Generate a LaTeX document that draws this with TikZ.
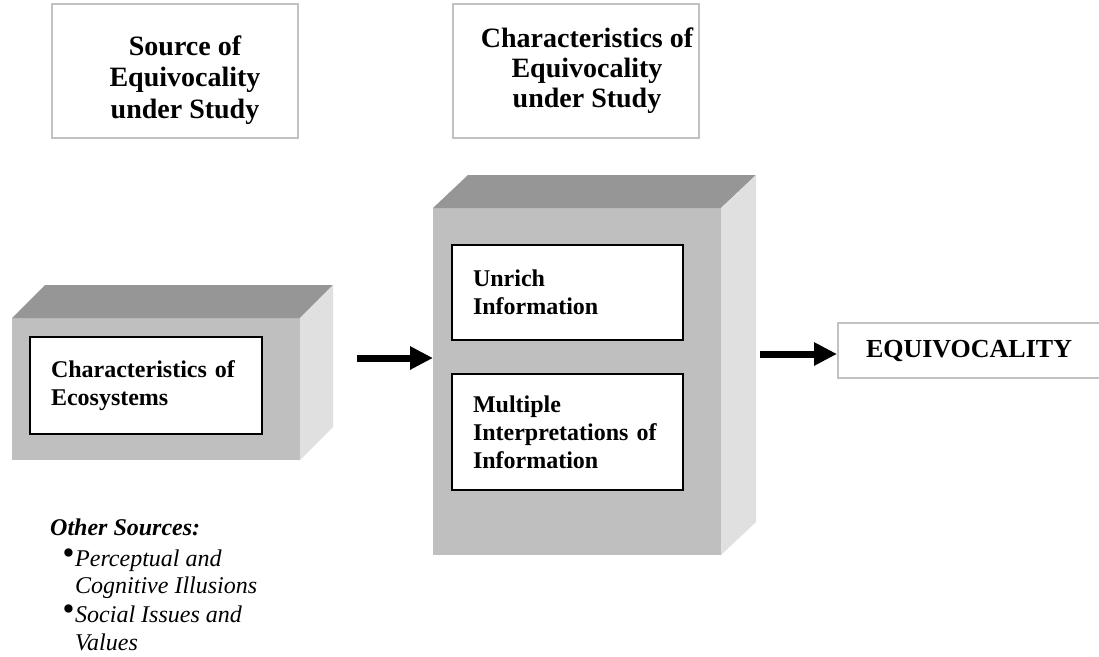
\documentclass[tikz,border=0pt]{standalone}
\usepackage{graphicx}
\usepackage{fontspec}
\setmainfont{Liberation Serif}
\usetikzlibrary{arrows.meta}

\definecolor{topgray}{gray}{0.59}
\definecolor{frontgray}{gray}{0.75}
\definecolor{sidegray}{gray}{0.88}
\definecolor{framegray}{gray}{0.76}

\newcommand{\bul}{\makebox[13pt][l]{\raisebox{0.05em}{\scalebox{1.45}{\textbullet}}}}

\begin{document}
\begin{tikzpicture}[x=1pt, y=-1pt,
	titlebox/.style={ draw=framegray, line width=2pt, fill=white, minimum width=246pt, minimum height=134pt },
	titletext/.style={ align=center, inner sep=0pt, font=\fontsize{28}{31.5}\selectfont\bfseries },
	frontface/.style={ fill=frontgray, inner sep=0pt, outer sep=0pt, minimum width=288pt },
	innerbox/.style={ draw, line width=1.5pt, fill=white, anchor=north west, outer sep=0pt, align=left, inner xsep=21pt, font=\fontsize{24}{28}\selectfont\bfseries },
	bigarrow/.style={ line width=7pt, -{Triangle[length=23pt,width=22pt]} },
	srctext/.style={ anchor=base west, inner sep=0pt, font=\fontsize{24}{28}\selectfont\itshape }
]
\useasboundingbox (0,0) rectangle (1099,656);

% headings
\node at (175,71) (srcframe) [titlebox] {};
\node at (185,80) (srctitle) [titletext] {Source of\\Equivocality\\under Study};
\node at (575.5,71) (charframe) [titlebox] {};
\node at (587,71) (chartitle) [titletext, font=\fontsize{28}{30}\selectfont\bfseries] {Characteristics of\\Equivocality\\under Study};

% source box
\node at (156,389) (srcfront) [frontface, minimum height=142pt] {};
\fill[topgray] (srcfront.north west) -- ++(33,-33) -- ++(288,0) -- (srcfront.north east) -- cycle;
\fill[sidegray] (srcfront.north east) -- ++(33,-33) -- ++(0,142) -- (srcfront.south east) -- cycle;
\node at (30,337) (ecosys) [innerbox, text width=190pt, minimum height=97pt] {Characteristics of\\Ecosystems\par\vspace*{8pt}};

% characteristics box
\node at (577,381.5) (charfront) [frontface, minimum height=347pt] {};
\fill[topgray] (charfront.north west) -- ++(35,-33) -- ++(288,0) -- (charfront.north east) -- cycle;
\fill[sidegray] (charfront.north east) -- ++(35,-33) -- ++(0,347) -- (charfront.south east) -- cycle;
\node at (452,245) (unrich) [innerbox, text width=189pt, minimum height=95pt] {Unrich\\Information\par\vspace*{16pt}};
\node at (452,374) (multi) [innerbox, text width=189pt, minimum height=116pt] {Multiple\\Interpretations of\\Information};

% outcome
\node at (837,350.5) (equiv) [anchor=west, draw=framegray, line width=2pt, fill=white, minimum height=55pt, inner xsep=28pt, font=\fontsize{26}{30}\selectfont\bfseries] {EQUIVOCALITY};

\coordinate (a1) at (357,358);
\coordinate (a2) at (760,354);
\draw[bigarrow] (a1) -- (charfront.west |- a1);
\draw[bigarrow] (a2) -- (equiv.west |- a2);

% other sources
\node at (50,535) (other) [srctext, font=\fontsize{24}{28}\selectfont\bfseries\itshape] {Other Sources:};
\node at (62,566) (perc) [srctext] {\bul Perceptual and};
\node at (75,593) (cogn) [srctext] {Cognitive Illusions};
\node at (62,622) (social) [srctext] {\bul Social Issues and};
\node at (75,650) (values) [srctext] {Values};

\end{tikzpicture}
\end{document}
